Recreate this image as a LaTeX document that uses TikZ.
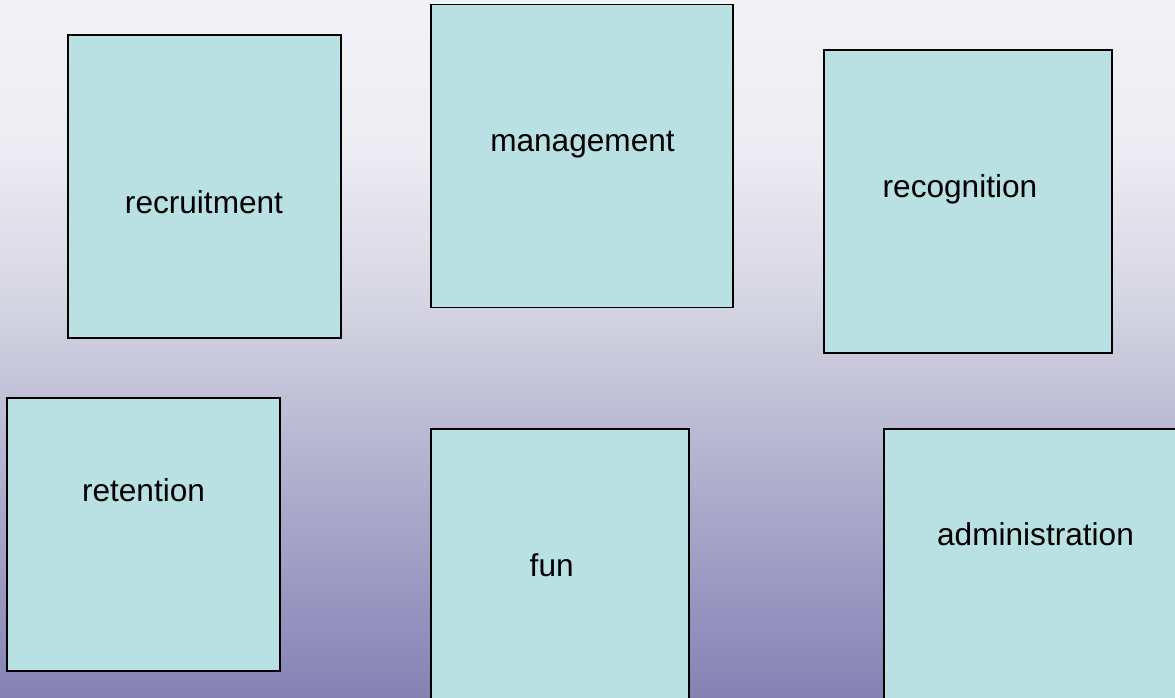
\documentclass[tikz,border=0pt]{standalone}
\usepackage{fontspec}
\setmainfont{Liberation Sans}
\definecolor{bgA}{HTML}{F3F2F7}
\definecolor{bgB}{HTML}{EDECF2}
\definecolor{bgC}{HTML}{D6D5E3}
\definecolor{bgD}{HTML}{C1C0D7}
\definecolor{bgE}{HTML}{ACAACB}
\definecolor{bgF}{HTML}{9896C0}
\definecolor{bgG}{HTML}{8582B3}
\definecolor{boxfill}{HTML}{B9E0E2}
\tikzset{
  card/.style={draw=black, line width=1.3pt, fill=boxfill, inner sep=0pt, rectangle},
  cardtext/.style={anchor=base, inner sep=0pt, font=\fontsize{31.6}{38}\selectfont, text=black}
}
\begin{document}
\begin{tikzpicture}[x=1pt,y=-1pt]
\useasboundingbox (0,0) rectangle (1175,698);
\clip (0,0) rectangle (1175,698);
% background gradient, in bands
\shade[top color=bgA, bottom color=bgB] (0,0) rectangle (1175,150.5);
\shade[top color=bgB, bottom color=bgC] (0,150) rectangle (1175,300.5);
\shade[top color=bgC, bottom color=bgD] (0,300) rectangle (1175,400.5);
\shade[top color=bgD, bottom color=bgE] (0,400) rectangle (1175,500.5);
\shade[top color=bgE, bottom color=bgF] (0,500) rectangle (1175,600.5);
\shade[top color=bgF, bottom color=bgG] (0,600) rectangle (1175,698);
% cards
\node[card, minimum width=273pt, minimum height=303pt] (recruitment) at (204.5,186.5) {};
\node[card, minimum width=302pt, minimum height=303pt] (management) at (582,156) {};
\node[card, minimum width=288pt, minimum height=303pt] (recognition) at (968,201.5) {};
\node[card, minimum width=273pt, minimum height=273pt] (retention) at (143.5,534.5) {};
\node[card, minimum width=258pt, minimum height=291pt] (fun) at (560,574.5) {};
\node[card, minimum width=310pt, minimum height=291pt] (administration) at (1039,574.5) {};
% labels
\node[cardtext] (recruitment-label) at (204,213) {recruitment};
\node[cardtext] (management-label) at (582.5,152) {management};
\node[cardtext] (recognition-label) at (960,197) {recognition};
\node[cardtext] (retention-label) at (143.5,501) {retention};
\node[cardtext] (fun-label) at (551.7,576) {fun};
\node[cardtext] (administration-label) at (1035.5,545.7) {administration};
\end{tikzpicture}
\end{document}
